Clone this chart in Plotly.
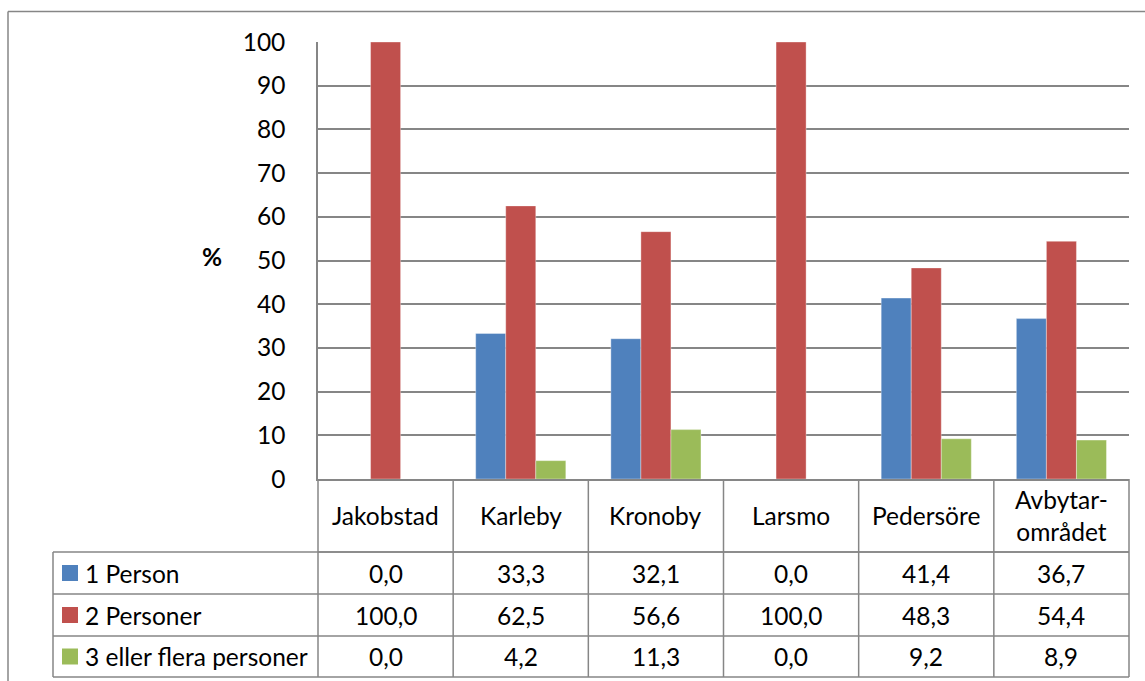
import plotly.graph_objects as go

categories = ["Jakobstad", "Karleby", "Kronoby", "Larsmo", "Pedersöre", "Avbytar-<br>området"]
series_names = ["1 Person", "2 Personer", "3 eller flera personer"]
one_person = [0.0, 33.3, 32.1, 0.0, 41.4, 36.7]
two_persons = [100.0, 62.5, 56.6, 100.0, 48.3, 54.4]
three_plus = [0.0, 4.2, 11.3, 0.0, 9.2, 8.9]
colors = ["#4F81BD", "#C0504D", "#9BBB59"]
y_ticks = list(range(0, 101, 10))

series = [one_person, two_persons, three_plus]

W, H = 1145, 681
L, R, T, B = 318, 1129, 42, 479
PW, PH = R - L, B - T

def px(x):
    return (x - L) / PW

def py(y):
    return (B - y) / PH

FONT = "Lato"
FS = 24.5
GRID = "#868686"

fig = go.Figure()
for name, vals, col in zip(series_names, series, colors):
    fig.add_trace(go.Bar(
        x=list(range(len(categories))), y=vals, name=name,
        marker=dict(color=col, line=dict(color="rgba(255,255,255,0.35)", width=1)),
        showlegend=False,
    ))

shapes = []
ann = []

# outer chart border (top and left)
shapes.append(dict(type="line", xref="paper", yref="paper", x0=px(8), x1=px(1160), y0=py(11.5), y1=py(11.5),
                   line=dict(color=GRID, width=1.5)))
shapes.append(dict(type="line", xref="paper", yref="paper", x0=px(8), x1=px(8), y0=py(11.5), y1=py(700),
                   line=dict(color=GRID, width=1.5)))

# data table
row_lines = [479, 552, 594, 636, 677]
ncat = len(categories)
col_edges = [i / ncat for i in range(ncat + 1)]
leg_left = px(53)
shapes.append(dict(type="line", xref="paper", yref="paper", x0=0, x1=1, y0=py(552), y1=py(552),
                   line=dict(color=GRID, width=1.5)))
for yy in row_lines[1:]:
    shapes.append(dict(type="line", xref="paper", yref="paper", x0=leg_left, x1=1, y0=py(yy), y1=py(yy),
                       line=dict(color=GRID, width=1.5)))
for xe in col_edges:
    shapes.append(dict(type="line", xref="paper", yref="paper", x0=xe, x1=xe, y0=py(479), y1=py(677),
                       line=dict(color=GRID, width=1.5)))
shapes.append(dict(type="line", xref="paper", yref="paper", x0=leg_left, x1=leg_left, y0=py(552), y1=py(677),
                   line=dict(color=GRID, width=1.5)))

# header
for i, c in enumerate(categories):
    ann.append(dict(x=(i + 0.5) / ncat, y=py(515.5), xref="paper", yref="paper", text=c, showarrow=False,
                    xanchor="center", yanchor="middle", font=dict(family=FONT, size=FS, color="black")))

# rows
for r, (name, vals, col) in enumerate(zip(series_names, series, colors)):
    top, bot = row_lines[r + 1], row_lines[r + 2]
    mid = (top + bot) / 2
    shapes.append(dict(type="rect", xref="paper", yref="paper", x0=px(62), x1=px(78), y0=py(mid - 8), y1=py(mid + 8),
                       fillcolor=col, line=dict(width=0)))
    ann.append(dict(x=px(83), y=py(mid), xref="paper", yref="paper", text=name, showarrow=False,
                    xanchor="left", yanchor="middle", font=dict(family=FONT, size=FS, color="black")))
    for i, v in enumerate(vals):
        ann.append(dict(x=(i + 0.5) / ncat, y=py(mid), xref="paper", yref="paper",
                        text=f"{v:.1f}".replace(".", ","), showarrow=False,
                        xanchor="center", yanchor="middle", font=dict(family=FONT, size=FS, color="black")))

# y axis title "%"
ann.append(dict(x=px(212), y=py(256), xref="paper", yref="paper", text="<b>%</b>", showarrow=False,
                xanchor="center", yanchor="middle", font=dict(family=FONT, size=FS, color="black")))

fig.update_layout(
    width=W, height=H,
    margin=dict(l=L, r=W - R, t=T, b=H - B, pad=0),
    paper_bgcolor="white", plot_bgcolor="white",
    barmode="group", bargap=1/3, bargroupgap=0,
    shapes=shapes, annotations=ann,
    xaxis=dict(range=[-0.5, ncat - 0.5], showticklabels=False, showgrid=False, zeroline=False,
               showline=True, linecolor=GRID, linewidth=1.5, ticks=""),
    yaxis=dict(range=[0, 100], tickvals=y_ticks, showgrid=True, gridcolor=GRID, gridwidth=1.5,
               zeroline=False, showline=True, linecolor=GRID, linewidth=1.5, ticks="",
               ticklabelstandoff=26,
               tickfont=dict(family=FONT, size=FS, color="black")),
    font=dict(family=FONT, size=FS, color="black"),
)

fig.write_html("out.html", config={"displayModeBar": False},
               post_script="document.body.style.margin='0';document.body.style.overflow='hidden';")
